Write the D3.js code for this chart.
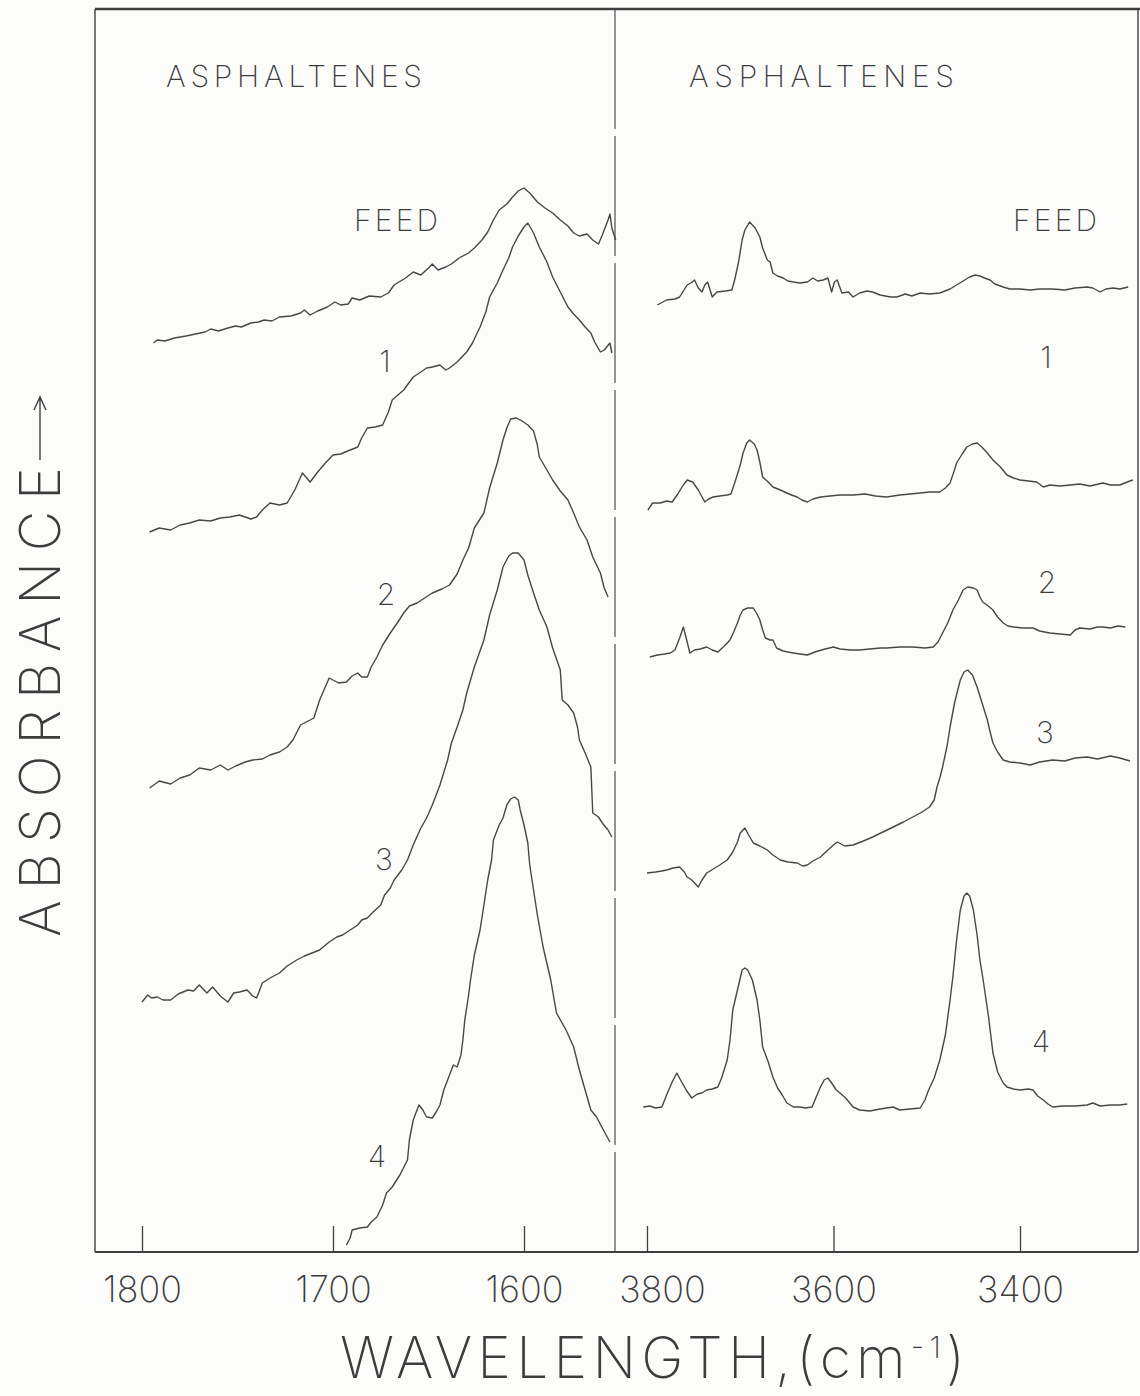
<!DOCTYPE html>
<html>
<head>
<meta charset="utf-8">
<script src="https://d3js.org/d3.v7.min.js"></script>
<style>
  body { margin: 0; background: #fcfcfb; }
  svg text { font-family: Inter, "DejaVu Sans", sans-serif; font-weight: 200; fill: #3c3c3c; }
</style>
</head>
<body>
<svg id="chart" width="1140" height="1396"></svg>
<script>
// ---- data: [wavenumber cm-1, absorbance (arbitrary units, curves offset)] ----
// 1800-1550 cm-1 region
const feedLow = [[1794,90.9],[1792,91.2],[1788,91.1],[1783,91.4],[1777,91.6],[1772,91.8],[1767,92.0],[1764,92.3],[1760,92.1],[1755,92.4],[1751,92.6],[1748,92.5],[1743,92.9],[1739,93.0],[1736,93.2],[1732,93.1],[1728,93.5],[1722,93.6],[1717,93.9],[1715,94.2],[1712,93.7],[1708,94.1],[1703,94.5],[1699,95.0],[1696,94.7],[1692,94.8],[1690,95.4],[1686,95.2],[1681,95.6],[1675,95.5],[1671,95.9],[1668,96.7],[1662,97.4],[1658,98.0],[1654,97.7],[1650,98.4],[1648,98.8],[1645,98.2],[1641,98.5],[1638,98.8],[1634,99.4],[1629,99.9],[1626,100.4],[1622,101.2],[1619,102.0],[1616,103.2],[1613,104.2],[1609,104.8],[1606,105.5],[1603,106.1],[1600,106.4],[1597,105.9],[1593,105.0],[1589,104.4],[1585,103.9],[1581,103.2],[1577,102.6],[1574,101.9],[1571,101.6],[1567,101.8],[1564,101.2],[1561,100.8],[1559,101.7],[1556,103.2],[1555,103.8],[1554,102.4],[1552,101.2]];
const run1Low = [[1796,72.0],[1791,72.4],[1785,72.2],[1780,72.7],[1775,72.9],[1770,73.2],[1764,73.1],[1759,73.4],[1754,73.5],[1749,73.7],[1743,73.3],[1740,73.5],[1737,74.2],[1733,74.9],[1728,74.7],[1724,74.9],[1720,76.2],[1716,77.9],[1712,77.0],[1708,78.0],[1704,78.9],[1700,79.7],[1696,79.8],[1691,80.2],[1687,80.5],[1685,81.4],[1682,82.4],[1678,82.5],[1674,82.7],[1671,84.0],[1669,85.2],[1663,86.2],[1658,87.5],[1654,88.0],[1651,88.4],[1648,88.5],[1644,88.7],[1641,88.2],[1639,88.4],[1635,89.0],[1630,90.0],[1627,90.9],[1623,92.5],[1620,94.0],[1618,95.5],[1614,96.9],[1611,98.2],[1608,99.4],[1606,100.5],[1603,101.6],[1600,102.5],[1598,102.9],[1595,101.9],[1592,100.5],[1588,99.0],[1585,97.5],[1581,96.0],[1577,94.5],[1574,93.8],[1571,93.2],[1568,92.5],[1565,91.9],[1563,91.0],[1560,90.0],[1558,90.2],[1555,90.9],[1554,89.9]];
const run2Low = [[1796,46.4],[1791,47.1],[1785,46.8],[1780,47.4],[1775,47.7],[1770,48.4],[1764,48.2],[1759,48.7],[1755,48.2],[1751,48.6],[1746,49.0],[1742,49.2],[1737,49.3],[1733,49.7],[1728,50.0],[1724,50.5],[1721,51.2],[1717,52.7],[1714,53.0],[1710,53.4],[1707,55.2],[1702,57.4],[1697,56.9],[1693,57.0],[1690,57.6],[1687,57.9],[1685,57.5],[1682,57.5],[1680,58.5],[1677,59.5],[1674,60.7],[1670,61.9],[1666,63.0],[1663,63.9],[1660,64.6],[1656,64.9],[1652,65.4],[1648,65.9],[1643,66.3],[1639,66.7],[1635,67.8],[1632,69.2],[1629,70.4],[1626,72.4],[1621,73.9],[1618,76.4],[1614,78.9],[1611,81.2],[1609,82.4],[1607,83.3],[1604,83.4],[1601,83.1],[1598,82.7],[1595,82.1],[1593,80.7],[1592,79.5],[1588,78.2],[1585,77.2],[1581,76.1],[1577,75.2],[1574,73.9],[1571,72.5],[1567,71.2],[1564,69.5],[1560,67.9],[1558,66.4],[1556,65.5]];
const run3Low = [[1800,25.0],[1797,25.7],[1795,25.4],[1792,25.5],[1789,25.2],[1785,25.2],[1781,25.8],[1776,26.2],[1773,26.1],[1770,26.7],[1766,25.9],[1763,26.5],[1759,25.6],[1755,25.0],[1752,25.9],[1749,26.0],[1745,26.2],[1742,25.6],[1740,25.4],[1738,26.4],[1737,26.9],[1733,27.4],[1728,27.9],[1724,28.6],[1719,29.2],[1715,29.6],[1711,29.9],[1707,30.2],[1702,31.0],[1698,31.5],[1695,31.7],[1691,32.2],[1687,32.7],[1685,33.2],[1682,33.4],[1679,34.0],[1675,34.7],[1673,35.7],[1670,36.4],[1668,37.2],[1664,38.2],[1661,39.2],[1658,40.7],[1654,42.4],[1651,43.4],[1648,44.7],[1644,46.7],[1640,49.2],[1638,50.9],[1635,52.5],[1632,54.2],[1630,55.9],[1626,58.5],[1621,61.2],[1618,63.7],[1614,66.2],[1611,68.5],[1608,69.6],[1606,69.9],[1603,69.9],[1600,69.2],[1598,67.7],[1595,65.9],[1592,64.2],[1588,62.5],[1585,60.4],[1581,58.2],[1580,55.2],[1577,54.7],[1574,53.9],[1572,52.5],[1571,51.2],[1568,49.9],[1565,48.5],[1564,43.9],[1561,43.5],[1559,42.9],[1556,42.2],[1554,41.5]];
const run4Low = [[1693,0.7],[1691,1.4],[1690,2.2],[1686,2.4],[1682,2.5],[1680,3.0],[1677,3.5],[1674,4.7],[1672,5.9],[1669,6.5],[1665,7.7],[1661,9.2],[1660,11.2],[1658,13.2],[1655,14.7],[1653,14.2],[1651,13.5],[1648,13.4],[1646,14.0],[1644,14.7],[1642,16.2],[1640,17.2],[1637,18.7],[1635,18.5],[1633,19.7],[1632,21.2],[1631,23.2],[1629,25.7],[1628,27.2],[1626,29.7],[1623,32.2],[1621,34.7],[1619,37.2],[1617,39.2],[1616,41.2],[1614,42.2],[1613,42.7],[1611,43.4],[1609,44.7],[1607,45.3],[1605,45.5],[1603,45.2],[1602,44.2],[1600,42.7],[1598,40.9],[1597,38.7],[1595,36.2],[1593,33.7],[1590,30.5],[1586,27.2],[1583,23.9],[1578,22.2],[1574,20.5],[1571,18.2],[1568,16.2],[1565,14.2],[1562,13.5],[1559,12.4],[1555,11.0]];

// 3800-3280 cm-1 region
const feedHigh = [[3789,94.7],[3783,95.0],[3779,95.2],[3770,95.3],[3765,95.5],[3757,96.7],[3753,96.9],[3749,97.2],[3745,96.4],[3741,96.0],[3738,96.7],[3735,97.0],[3730,95.5],[3725,96.0],[3716,96.1],[3709,96.2],[3706,97.2],[3702,98.9],[3698,101.2],[3695,102.2],[3690,103.0],[3684,102.4],[3679,101.5],[3676,100.4],[3671,99.2],[3668,99.0],[3665,97.9],[3660,97.6],[3654,97.4],[3649,97.1],[3643,97.0],[3636,96.9],[3628,97.0],[3622,97.4],[3617,97.1],[3611,97.2],[3606,97.4],[3602,96.0],[3599,97.0],[3596,97.2],[3591,95.9],[3584,96.0],[3579,95.5],[3572,95.9],[3564,96.1],[3558,96.0],[3550,95.7],[3539,95.5],[3532,95.5],[3523,95.8],[3516,95.6],[3507,95.9],[3497,95.8],[3486,95.9],[3475,96.3],[3468,96.7],[3461,97.1],[3454,97.5],[3448,97.7],[3443,97.6],[3438,97.4],[3432,97.2],[3427,96.8],[3418,96.5],[3411,96.3],[3400,96.3],[3389,96.2],[3379,96.3],[3365,96.3],[3352,96.2],[3341,96.4],[3328,96.5],[3322,96.4],[3314,96.0],[3308,96.3],[3300,96.4],[3293,96.3],[3284,96.5]];
const run1High = [[3799,74.2],[3794,74.9],[3786,74.9],[3779,75.1],[3773,75.0],[3767,75.8],[3761,76.7],[3757,77.2],[3751,77.0],[3745,76.2],[3738,75.0],[3734,75.3],[3729,75.5],[3722,75.6],[3714,75.7],[3710,75.8],[3706,76.9],[3700,78.7],[3697,79.9],[3693,80.9],[3690,81.2],[3685,80.8],[3682,80.2],[3679,79.0],[3676,77.5],[3670,77.0],[3665,76.5],[3657,76.2],[3650,75.9],[3645,75.7],[3639,75.5],[3634,75.2],[3628,75.0],[3622,75.3],[3614,75.5],[3604,75.6],[3593,75.7],[3579,75.7],[3566,75.8],[3555,75.6],[3543,75.5],[3529,75.7],[3518,75.8],[3507,75.9],[3497,76.0],[3486,76.0],[3480,76.4],[3475,76.9],[3471,78.0],[3468,78.9],[3462,79.8],[3457,80.5],[3451,80.8],[3446,80.9],[3441,80.5],[3435,79.9],[3429,79.2],[3421,78.5],[3414,77.7],[3407,77.4],[3400,77.2],[3391,77.1],[3382,77.0],[3375,76.5],[3368,76.7],[3357,76.6],[3346,76.7],[3336,76.8],[3325,76.6],[3311,76.9],[3303,76.7],[3293,76.7],[3285,77.0],[3279,77.2]];
const run2High = [[3797,59.5],[3789,59.7],[3781,59.8],[3775,59.9],[3770,60.2],[3765,61.4],[3761,62.5],[3758,61.4],[3754,59.9],[3749,60.2],[3743,60.3],[3736,60.5],[3730,60.2],[3724,60.0],[3717,60.6],[3711,61.2],[3707,62.0],[3703,62.9],[3700,63.7],[3697,64.2],[3692,64.4],[3686,64.4],[3682,63.8],[3679,63.2],[3676,62.2],[3673,61.4],[3668,61.2],[3665,61.2],[3661,60.4],[3654,60.1],[3649,60.0],[3643,59.9],[3636,59.8],[3628,59.7],[3620,60.0],[3609,60.3],[3600,60.5],[3593,60.3],[3582,60.2],[3572,60.2],[3561,60.3],[3550,60.4],[3543,60.4],[3529,60.5],[3515,60.5],[3502,60.4],[3493,60.5],[3488,61.0],[3483,61.9],[3477,63.0],[3472,64.2],[3466,65.2],[3461,66.2],[3456,66.5],[3450,66.4],[3446,66.2],[3443,65.5],[3440,65.0],[3434,64.6],[3429,64.2],[3424,63.5],[3418,62.9],[3413,62.6],[3407,62.5],[3397,62.4],[3386,62.4],[3379,62.1],[3368,61.9],[3357,61.8],[3346,61.7],[3341,62.2],[3336,62.4],[3325,62.3],[3317,62.5],[3311,62.5],[3303,62.4],[3295,62.6],[3287,62.5]];
const run3High = [[3800,37.9],[3791,38.0],[3784,38.1],[3779,38.2],[3772,38.4],[3765,38.5],[3760,38.0],[3757,37.5],[3752,37.2],[3749,36.9],[3745,36.5],[3741,37.2],[3736,37.9],[3729,38.3],[3722,38.7],[3714,39.2],[3708,40.0],[3703,41.0],[3700,41.9],[3695,42.4],[3691,41.7],[3686,40.9],[3679,40.6],[3671,40.2],[3665,39.7],[3657,39.2],[3649,39.0],[3639,38.9],[3633,38.6],[3628,38.7],[3622,39.1],[3614,39.5],[3606,40.2],[3600,40.7],[3596,41.0],[3588,40.6],[3579,40.7],[3568,41.1],[3558,41.5],[3547,42.0],[3536,42.5],[3525,43.0],[3515,43.5],[3505,44.0],[3497,44.5],[3492,45.2],[3489,46.5],[3486,47.4],[3483,48.5],[3478,50.7],[3475,52.5],[3470,55.0],[3464,57.2],[3460,58.0],[3456,58.2],[3451,57.7],[3446,56.5],[3441,55.0],[3435,53.2],[3432,52.0],[3429,50.9],[3424,50.0],[3418,49.2],[3411,49.0],[3400,48.9],[3389,48.7],[3379,49.0],[3365,49.2],[3352,49.1],[3341,49.4],[3328,49.5],[3317,49.3],[3303,49.6],[3293,49.4],[3282,49.1]];
const run4High = [[3804,14.5],[3797,14.6],[3791,14.4],[3784,14.5],[3779,15.7],[3773,17.0],[3768,17.9],[3764,17.2],[3758,16.2],[3752,15.4],[3746,15.8],[3741,15.9],[3736,16.2],[3730,16.3],[3724,16.5],[3720,17.4],[3714,19.2],[3711,21.2],[3708,24.2],[3703,26.2],[3698,28.2],[3695,28.4],[3692,28.2],[3687,27.2],[3682,25.2],[3679,23.2],[3676,20.5],[3670,19.0],[3665,17.5],[3660,16.4],[3655,15.7],[3650,14.9],[3643,14.5],[3636,14.5],[3630,14.4],[3623,14.5],[3619,15.4],[3614,16.5],[3610,17.2],[3606,17.4],[3602,16.9],[3597,16.2],[3593,15.9],[3587,15.4],[3579,14.5],[3572,14.2],[3561,14.1],[3550,14.3],[3536,14.5],[3529,14.2],[3518,14.3],[3507,14.4],[3502,15.2],[3498,16.2],[3492,17.4],[3486,19.2],[3480,21.7],[3475,25.2],[3472,27.5],[3468,31.2],[3464,34.2],[3460,35.6],[3457,35.9],[3454,35.6],[3450,34.2],[3446,31.7],[3443,29.2],[3440,27.5],[3434,23.7],[3429,19.9],[3424,18.0],[3418,16.9],[3414,16.5],[3407,16.3],[3400,16.2],[3391,16.3],[3386,16.2],[3381,15.6],[3375,15.2],[3370,14.8],[3365,14.5],[3354,14.6],[3341,14.6],[3328,14.7],[3322,14.9],[3314,14.6],[3303,14.7],[3293,14.7],[3285,14.8]];

const lowTicks = [1800, 1700, 1600];
const highTicks = [3800, 3600, 3400];
const curveNames = ["FEED", "1", "2", "3", "4"];
const panelTitle = "ASPHALTENES";
const xTitle = "WAVELENGTH,(cm";
const yTitle = "ABSORBANCE";

// ---- layout ----
const W = 1140, H = 1396;
const frameL = 95, frameR = 1138, frameT = 9, frameB = 1252, divX = 615;
const ink = "#3f3f3f";

const svg = d3.select("#chart");
svg.append("rect").attr("width", W).attr("height", H).attr("fill", "#fcfcfb");

const xLow = d3.scaleLinear().domain([1800, 1600]).range([142, 524]);
const xHigh = d3.scaleLinear().domain([3800, 3400]).range([647, 1020]);
const y = d3.scaleLinear().domain([0, 124.3]).range([frameB, frameT]);

// frame
svg.append("line").attr("x1", frameL).attr("x2", W).attr("y1", frameT).attr("y2", frameT)
  .attr("stroke", ink).attr("stroke-width", 2.6);
svg.append("line").attr("x1", frameL).attr("x2", frameL).attr("y1", frameT).attr("y2", frameB)
  .attr("stroke", ink).attr("stroke-width", 1.4);
svg.append("line").attr("x1", frameR).attr("x2", frameR).attr("y1", frameT).attr("y2", frameB)
  .attr("stroke", ink).attr("stroke-width", 1.4);
svg.append("line").attr("x1", divX).attr("x2", divX).attr("y1", frameT).attr("y2", frameB)
  .attr("stroke", ink).attr("stroke-width", 1.1).attr("stroke-dasharray", "120 7");

// axes (ticks point up into the plot)
function drawAxis(scale, ticks) {
  const g = svg.append("g").attr("transform", `translate(0,${frameB})`)
    .call(d3.axisBottom(scale).tickValues(ticks).tickSize(-26).tickPadding(24).tickFormat(d3.format("d")));
  g.select(".domain").remove();
  g.selectAll(".tick line").attr("stroke", ink).attr("stroke-width", 1.3);
  g.selectAll(".tick text").attr("font-size", 36).style("fill", "#3c3c3c");
  return g;
}
drawAxis(xLow, lowTicks);
const gHigh = drawAxis(xHigh, highTicks);
gHigh.selectAll(".tick text").filter(d => d === 3800).attr("dx", 15);

svg.append("line").attr("x1", frameL).attr("x2", frameR).attr("y1", frameB).attr("y2", frameB)
  .attr("stroke", ink).attr("stroke-width", 2.2);

// spectra
const lineLow = d3.line().x(d => xLow(d[0])).y(d => y(d[1]));
const lineHigh = d3.line().x(d => xHigh(d[0])).y(d => y(d[1]));
[feedLow, run1Low, run2Low, run3Low, run4Low].forEach(s => {
  svg.append("path").datum(s).attr("d", lineLow)
    .attr("fill", "none").attr("stroke", "#474747").attr("stroke-width", 1.4).attr("stroke-linejoin", "round");
});
[feedHigh, run1High, run2High, run3High, run4High].forEach(s => {
  svg.append("path").datum(s).attr("d", lineHigh)
    .attr("fill", "none").attr("stroke", "#474747").attr("stroke-width", 1.4).attr("stroke-linejoin", "round");
});

// panel titles
svg.append("text").attr("x", 166).attr("y", 87).attr("font-size", 30)
  .attr("textLength", 256).attr("lengthAdjust", "spacing").text(panelTitle);
svg.append("text").attr("x", 689).attr("y", 87).attr("font-size", 30)
  .attr("textLength", 265).attr("lengthAdjust", "spacing").text(panelTitle);

// curve labels: [x, baseline] for the low and high panels
const lowLabelPos = [[354, 231], [385, 372], [386, 605], [384, 870], [377, 1167]];
const highLabelPos = [[1013, 231], [1046, 368], [1047, 593], [1045, 743], [1041, 1052]];
curveNames.forEach((n, i) => {
  [lowLabelPos[i], highLabelPos[i]].forEach(p => {
    const t = svg.append("text").attr("x", p[0]).attr("y", p[1]).attr("font-size", 30).text(n);
    if (n === "FEED") t.attr("textLength", 84).attr("lengthAdjust", "spacing");
    else t.attr("text-anchor", "middle");
  });
});

// x title
const xt = svg.append("text").attr("x", 340).attr("y", 1378).attr("font-size", 57)
  .attr("textLength", 625).attr("lengthAdjust", "spacing");
xt.append("tspan").text(xTitle);
xt.append("tspan").attr("dy", -20).attr("font-size", 30).text("-1");
xt.append("tspan").attr("dy", 20).text(")");

// y title with arrow
svg.append("text").attr("transform", "translate(60,937) rotate(-90)").attr("font-size", 56)
  .attr("textLength", 470).attr("lengthAdjust", "spacing").text(yTitle);
svg.append("path").attr("d", "M40,460 L40,398 M34,410 L40,397 L46,410")
  .attr("fill", "none").attr("stroke", ink).attr("stroke-width", 1.4);
</script>
</body>
</html>
